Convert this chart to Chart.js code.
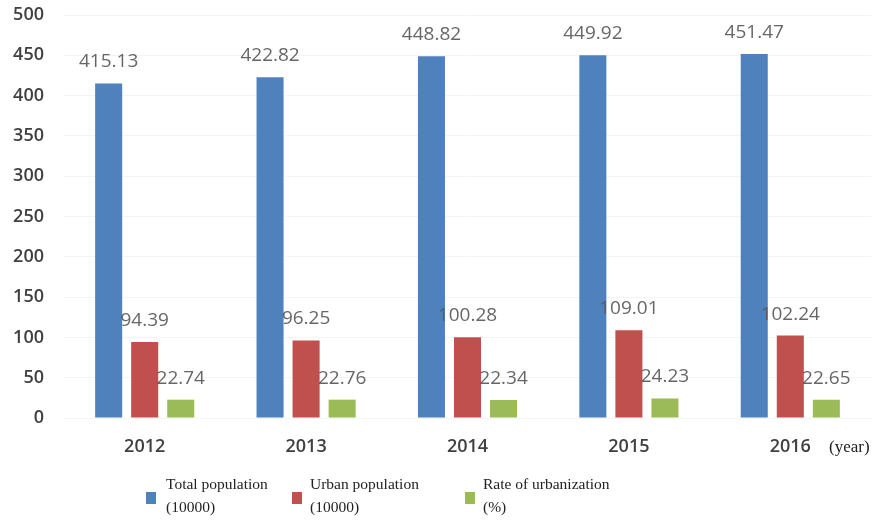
<!DOCTYPE html>
<html>
<head>
<meta charset="utf-8">
<script src="https://cdn.jsdelivr.net/npm/chart.js@4"></script>
<style>
  html, body { margin: 0; padding: 0; background: #fff; }
  #wrap { position: relative; width: 882px; height: 521px; }
  #c { position: absolute; left: 0; top: 0; }
  .yr { position: absolute; left: 829px; top: 437px; font-family: "Liberation Serif", serif; font-size: 17px; color: #222; }
  .leg { position: absolute; top: 472px; font-family: "Liberation Serif", serif; font-size: 15.5px; line-height: 23px; color: #222; }
  .sw { position: absolute; top: 492px; width: 10px; height: 12px; }
</style>
</head>
<body>
<div id="wrap">
  <canvas id="c" width="882" height="521"></canvas>
  <div class="yr">(year)</div>
  <div class="sw" style="left:146px;background:#4F81BD"></div>
  <div class="leg" style="left:166px">Total population<br>(10000)</div>
  <div class="sw" style="left:292px;background:#C0504D"></div>
  <div class="leg" style="left:310px">Urban population<br>(10000)</div>
  <div class="sw" style="left:465px;background:#9BBB59"></div>
  <div class="leg" style="left:483px">Rate of urbanization<br>(%)</div>
</div>
<script>
const years = ["2012", "2013", "2014", "2015", "2016"];
const totalPopulation = [415.13, 422.82, 448.82, 449.92, 451.47];
const urbanPopulation = [94.39, 96.25, 100.28, 109.01, 102.24];
const urbanizationRate = [22.74, 22.76, 22.34, 24.23, 22.65];
const yTicks = [0, 50, 100, 150, 200, 250, 300, 350, 400, 450, 500];

const labelPlugin = {
  id: 'valueLabels',
  afterDatasetsDraw(chart) {
    const ctx = chart.ctx;
    ctx.save();
    ctx.font = '19px "Open Sans"';
    ctx.fillStyle = 'rgba(89,89,89,0.92)';
    ctx.textAlign = 'center';
    ctx.textBaseline = 'alphabetic';
    chart.data.datasets.forEach((ds, i) => {
      const meta = chart.getDatasetMeta(i);
      meta.data.forEach((bar, j) => {
        ctx.fillText(ds.data[j].toFixed(2), bar.x, bar.y - 16);
      });
    });
    ctx.restore();
  }
};

new Chart(document.getElementById('c'), {
  type: 'bar',
  data: {
    labels: years,
    datasets: [
      { label: 'Total population (10000)', data: totalPopulation, backgroundColor: '#4F81BD' },
      { label: 'Urban population (10000)', data: urbanPopulation, backgroundColor: '#C0504D' },
      { label: 'Rate of urbanization (%)', data: urbanizationRate, backgroundColor: '#9BBB59' }
    ]
  },
  options: {
    responsive: false,
    animation: false,
    devicePixelRatio: 1,
    categoryPercentage: 0.67,
    barPercentage: 0.75,
    layout: { padding: { top: 15, right: 11, bottom: 63, left: 0 } },
    plugins: { legend: { display: false }, tooltip: { enabled: false } },
    scales: {
      x: {
        grid: { display: false, drawTicks: false },
        border: { display: false },
        ticks: { font: { family: 'Open Sans', size: 18, weight: '600' }, color: '#404040', padding: 18 },
        afterFit(s) { s.height = 40; }
      },
      y: {
        min: 0, max: 500,
        afterBuildTicks(s) { s.ticks = yTicks.map(v => ({ value: v })); },
        grid: { color: 'rgba(0,0,0,0.045)', drawTicks: true, tickLength: 20, tickColor: 'rgba(0,0,0,0)' },
        border: { display: false },
        ticks: { font: { family: 'Open Sans', size: 18, weight: '600' }, color: '#404040', padding: 0 },
        afterFit(s) { s.width = 64; }
      }
    }
  },
  plugins: [labelPlugin]
});
</script>
</body>
</html>
